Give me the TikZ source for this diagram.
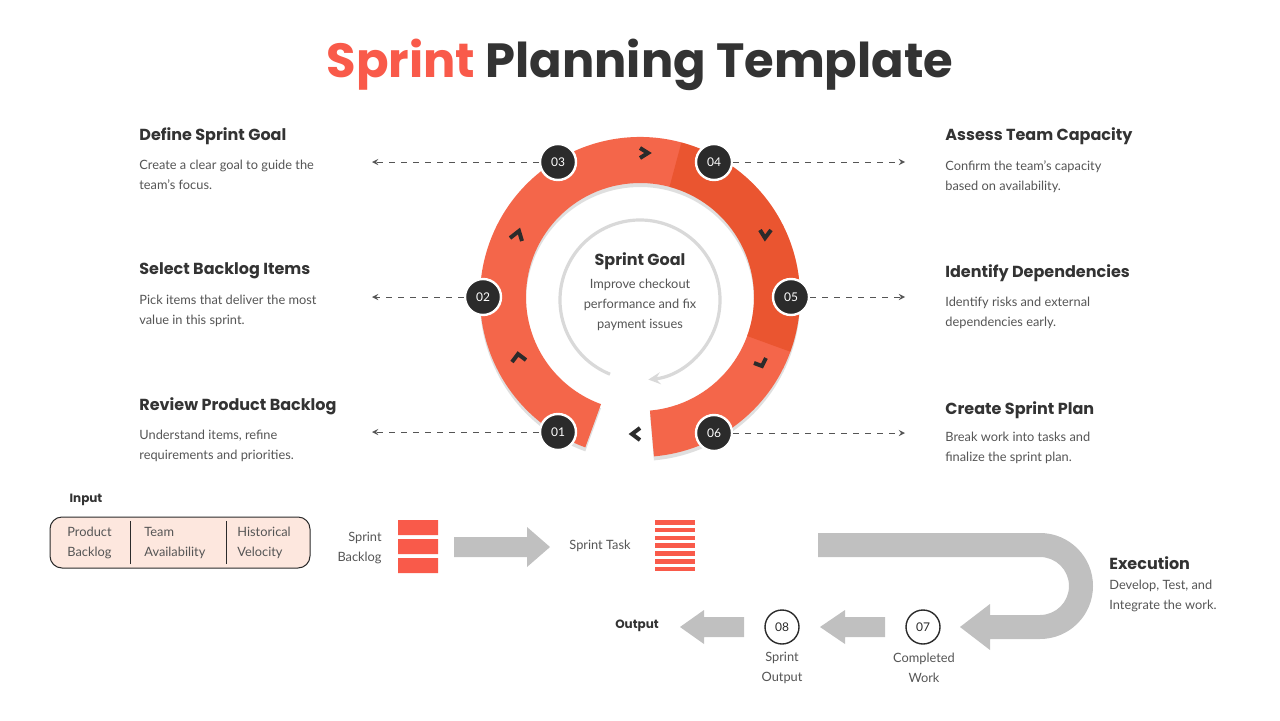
\documentclass[tikz,border=0pt]{standalone}
\usepackage{fontspec}
\setmainfont{Lato}
\newfontfamily\headfont{Poppins}
\usetikzlibrary{shadows,calc}
\definecolor{coral}{HTML}{F95A4A}
\definecolor{ringc}{HTML}{F4664A}
\definecolor{dark}{HTML}{2B2B2B}
\definecolor{txt}{HTML}{333333}
\definecolor{body}{HTML}{555555}
\definecolor{garrow}{HTML}{C0C0C0}
\definecolor{peach}{HTML}{FDE7DE}
\tikzset{
 badge/.style={circle,fill=dark,draw=white,line width=1.2pt,minimum size=18pt,inner sep=0pt,text=white,font=\fontsize{6}{7}\selectfont},
 obadge/.style={circle,fill=white,draw=dark,line width=0.7pt,minimum size=17pt,inner sep=0pt,text=dark,font=\fontsize{6}{7}\selectfont},
 ttl/.style={anchor=west,inner sep=0pt,text=txt,font=\headfont\fontsize{8}{9}\selectfont\bfseries},
 dsc/.style={anchor=north west,inner sep=0pt,text=body,align=left,font=\fontsize{6.4}{10}\selectfont},
 lbl/.style={inner sep=0pt,text=body,align=center,font=\fontsize{6.4}{10}\selectfont},
 dline/.style={dashed,draw=dark!80,line width=0.4pt,-stealth},
 chev/.style={draw=dark,line width=2pt,line cap=butt,line join=miter},
 bar/.style={fill=coral,draw=none},
}
\begin{document}
\begin{tikzpicture}[x=0.5pt,y=0.5pt]
\useasboundingbox[fill=white] (0,0) rectangle (1280,720);
% title
\node[inner sep=0pt,font=\headfont\fontsize{24}{28}\selectfont\bfseries] (title) at (640,655) {\textcolor{coral}{Sprint} \textcolor{txt}{Planning Template}};
% ring
\coordinate (c) at (640,423);
\fill[ringc,drop shadow={opacity=0.25,shadow xshift=0pt,shadow yshift=-2pt}] ($(c)+(250:80pt)$) arc (250:-85:80pt) -- ($(c)+(-85:57pt)$) arc (-85:250:57pt) -- cycle;
\fill[orange!50!red!85!black,opacity=0.35] ($(c)+(75:80pt)$) arc (75:-20:80pt) -- ($(c)+(-20:57pt)$) arc (-20:75:57pt) -- cycle;
% inner gray circle
\draw[gray!30,line width=1.6pt,-stealth] ($(640,420)+(248:40pt)$) arc (248:-84:40pt);
\node[inner sep=0pt,text=txt,font=\headfont\fontsize{8}{9}\selectfont\bfseries] (sg) at (640,459) {Sprint Goal};
\node[lbl,text=body] (sgt) at (640,415) {Improve checkout\\performance and fix\\payment issues};
% chevrons
\draw[chev] (640,572) -- (648,567) -- (640,562);
\draw[chev] (760,490) -- (765,482) -- (771,490);
\draw[chev] (754,357) -- (762,354) -- (766,362);
\draw[chev] (640,292) -- (632,286) -- (640,280);
\draw[chev] (512,358) -- (518,366) -- (526,360);
\draw[chev] (510,482) -- (519,489) -- (522,479);
% badges
\node[badge] (b1) at (558,288) {01};
\node[badge] (b2) at (483,423) {02};
\node[badge] (b3) at (558,558) {03};
\node[badge] (b4) at (714,558) {04};
\node[badge] (b5) at (791,423) {05};
\node[badge] (b6) at (714,287) {06};
\coordinate (l1) at (372,288); \coordinate (l2) at (372,423); \coordinate (l3) at (372,558);
\coordinate (r4) at (905,558); \coordinate (r5) at (905,423); \coordinate (r6) at (905,287);
\draw[dline] (b1) -- (l1); \draw[dline] (b2) -- (l2); \draw[dline] (b3) -- (l3);
\draw[dline] (b4) -- (r4); \draw[dline] (b5) -- (r5); \draw[dline] (b6) -- (r6);
% left texts
\node[ttl] (t3) at (139,584) {Define Sprint Goal};
\node[dsc] (d3) at (139,560) {Create a clear goal to guide the\\team's focus.};
\node[ttl] (t2) at (139,449) {Select Backlog Items};
\node[dsc] (d2) at (139,425) {Pick items that deliver the most\\value in this sprint.};
\node[ttl] (t1) at (139,314) {Review Product Backlog};
\node[dsc] (d1) at (139,290) {Understand items, refine\\requirements and priorities.};
% right texts
\node[ttl] (t4) at (945,584) {Assess Team Capacity};
\node[dsc] (d4) at (945,560) {Confirm the team's capacity\\based on availability.};
\node[ttl] (t5) at (945,447) {Identify Dependencies};
\node[dsc] (d5) at (945,423) {Identify risks and external\\dependencies early.};
\node[ttl] (t6) at (945,310) {Create Sprint Plan};
\node[dsc] (d6) at (945,288) {Break work into tasks and\\finalize the sprint plan.};
% input
\node[inner sep=0pt,text=txt,font=\headfont\fontsize{6}{7}\selectfont\bfseries] (inp) at (86,220) {Input};
\draw[fill=peach,draw=dark,line width=0.5pt,rounded corners=6pt] (50,152) rectangle (310,203);
\draw[dark,line width=0.5pt] (130,156) -- (130,199) (226,156) -- (226,199);
\node[dsc,anchor=west] (ip1) at (67,177) {Product\\Backlog};
\node[dsc,anchor=west] (ip2) at (144,177) {Team\\Availability};
\node[dsc,anchor=west] (ip3) at (237,177) {Historical\\Velocity};
\node[lbl,anchor=east,align=right] (sb) at (382,172) {Sprint\\Backlog};
\fill[bar] (398,185) rectangle (438,200) (398,166) rectangle (438,181) (398,147) rectangle (438,162);
\fill[garrow] (454,183) -- (527,183) -- (527,193) -- (550,173) -- (527,153) -- (527,163) -- (454,163) -- cycle;
\node[lbl] (st) at (600,174) {Sprint Task};
\foreach \i in {0,...,6} \fill[bar] (655,{200-\i*7.8}) rectangle (695,{195.5-\i*7.8});
% U arrow
\fill[garrow] (818,187) -- (1040,187) arc (90:-90:53) -- (990,81) -- (990,70) -- (960,93) -- (990,116) -- (990,105) -- (1040,105) arc (-90:90:29) -- (818,163) -- cycle;
\node[ttl] (ex) at (1109,157) {Execution};
\node[dsc] (exd) at (1109,140) {Develop, Test, and\\Integrate the work.};
% output chain
\node[obadge] (b7) at (923,93) {07};
\node[obadge] (b8) at (782,93) {08};
\fill[garrow] (885,103) -- (845,103) -- (845,110) -- (820,93) -- (845,76) -- (845,83) -- (885,83) -- cycle;
\fill[garrow] (744,103) -- (704,103) -- (704,110) -- (680,93) -- (704,76) -- (704,83) -- (744,83) -- cycle;
\node[inner sep=0pt,text=txt,font=\headfont\fontsize{6}{7}\selectfont\bfseries] (out) at (637,94) {Output};
\node[lbl] (cw) at (924,52) {Completed\\Work};
\node[lbl] (so) at (782,52) {Sprint\\Output};
\end{tikzpicture}
\end{document}
